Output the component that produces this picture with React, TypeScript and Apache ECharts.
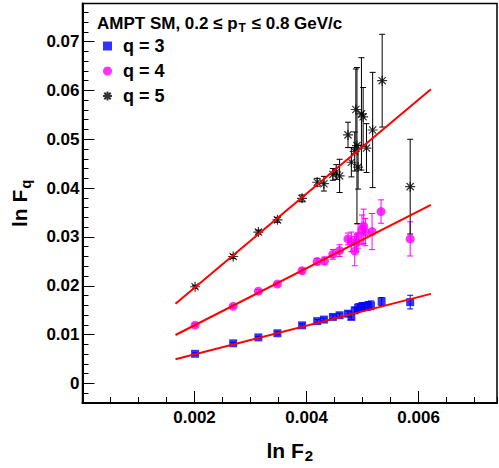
import React, { useEffect, useRef } from 'react';
import * as echarts from 'echarts';

const FONT = '"Liberation Sans", Arial, Helvetica, sans-serif';

const seriesNames = ['q = 3', 'q = 4', 'q = 5'];

const q3X = [0.00201, 0.00269, 0.00314, 0.00348, 0.00392, 0.00419, 0.00431, 0.00447, 0.00459, 0.00474, 0.0048, 0.00486, 0.00492, 0.00498, 0.00504, 0.00509, 0.00515, 0.00534, 0.00585];
const q3Y = [0.00607, 0.00822, 0.00943, 0.01028, 0.0119, 0.01277, 0.01308, 0.01362, 0.01397, 0.01429, 0.01362, 0.01498, 0.01551, 0.01565, 0.01579, 0.01585, 0.016, 0.0168, 0.01666];
const q3Err = [0.0002, 0.0002, 0.0002, 0.0003, 0.0003, 0.0003, 0.0003, 0.0004, 0.0004, 0.0005, 0.0005, 0.0006, 0.0008, 0.0009, 0.0008, 0.0009, 0.0009, 0.0008, 0.0014];

const q4X = [0.00201, 0.00269, 0.00314, 0.00348, 0.00392, 0.00419, 0.00432, 0.00447, 0.00459, 0.00474, 0.0048, 0.00486, 0.00489, 0.00492, 0.00499, 0.00502, 0.00505, 0.00517, 0.00533, 0.00585];
const q4Y = [0.01194, 0.01579, 0.01889, 0.02036, 0.02308, 0.02496, 0.0251, 0.02644, 0.0272, 0.0296, 0.029, 0.0271, 0.0288, 0.0302, 0.0315, 0.0322, 0.031, 0.0311, 0.0352, 0.0296];
const q4Err = [0.0003, 0.0003, 0.0003, 0.0004, 0.0005, 0.0006, 0.0008, 0.001, 0.0012, 0.0012, 0.002, 0.003, 0.0018, 0.0025, 0.003, 0.0035, 0.0028, 0.0037, 0.0024, 0.0035];

const q5X = [0.00201, 0.00269, 0.00314, 0.00348, 0.00392, 0.00419, 0.00431, 0.00447, 0.00453, 0.00459, 0.00474, 0.0048, 0.00486, 0.00488, 0.0049, 0.00492, 0.00498, 0.00501, 0.00507, 0.00518, 0.00535, 0.00585];
const q5Y = [0.0198, 0.026, 0.031, 0.0335, 0.0379, 0.0412, 0.0409, 0.0428, 0.0433, 0.0425, 0.0509, 0.0453, 0.0475, 0.0561, 0.0487, 0.0443, 0.0552, 0.0546, 0.0482, 0.0519, 0.062, 0.0403];
const q5Err = [0.0003, 0.0004, 0.0004, 0.0005, 0.0007, 0.0008, 0.0015, 0.0012, 0.0015, 0.0034, 0.0026, 0.003, 0.004, 0.0083, 0.016, 0.0045, 0.0115, 0.006, 0.005, 0.0118, 0.0095, 0.0097];

// linear fits: lnFq = intercept + slope * lnF2
const fitSlope = [2.94, 5.84, 9.63];
const fitIntercept = [0.00006, 0.00023, 0.00033];
const fitRange = [0.00166, 0.00622];

const STAR = 'path://M0,-5L0,5M-5,0L5,0M-3.6,-3.6L3.6,3.6M-3.6,3.6L3.6,-3.6';

function errRender(color: string) {
  return (params: any, api: any) => {
    const x = api.value(0);
    const y = api.value(1);
    const e = api.value(2);
    const top = api.coord([x, y + e]);
    const bot = api.coord([x, y - e]);
    const hw = 3;
    const st = { stroke: color, lineWidth: 1 };
    return {
      type: 'group',
      children: [
        { type: 'line', shape: { x1: top[0], y1: top[1], x2: bot[0], y2: bot[1] }, style: st },
        { type: 'line', shape: { x1: top[0] - hw, y1: top[1], x2: top[0] + hw, y2: top[1] }, style: st },
        { type: 'line', shape: { x1: bot[0] - hw, y1: bot[1], x2: bot[0] + hw, y2: bot[1] }, style: st },
      ],
    };
  };
}

function fmtY(v: number) {
  if (Math.abs(v) < 1e-9) return '0';
  return String(Math.round(v * 100) / 100);
}

const subRich = {
  a: { fontSize: 21, fontWeight: 'bold', fontFamily: FONT, color: '#000' },
  s: { fontSize: 15, fontWeight: 'bold', fontFamily: FONT, color: '#000', padding: [11, 0, 0, 1] },
};

export default function App() {
  const ref = useRef<HTMLDivElement>(null);
  useEffect(() => {
    if (!ref.current) return;
    const chart = echarts.init(ref.current, undefined, { renderer: 'svg' });
    const xs = [q3X, q4X, q5X];
    const ys = [q3Y, q4Y, q5Y];
    const es = [q3Err, q4Err, q5Err];
    const colors = ['#0000ff', '#ff00ff', '#000000'];
    const symbols = ['rect', 'circle', STAR];
    const sizes = [8, 9, 10];

    const series: any[] = [];
    for (let k = 0; k < 3; k++) {
      series.push({
        type: 'custom',
        name: seriesNames[k] + ' err',
        xAxisIndex: 0,
        yAxisIndex: 0,
        renderItem: errRender(colors[k]),
        data: xs[k].map((x, i) => [x, ys[k][i], es[k][i]]),
        encode: { x: 0, y: 1 },
        clip: true,
        z: 2,
      });
    }
    for (let k = 0; k < 3; k++) {
      const isStar = k === 2;
      series.push({
        type: 'scatter',
        name: seriesNames[k],
        xAxisIndex: 0,
        yAxisIndex: 0,
        symbol: symbols[k],
        symbolSize: sizes[k],
        data: xs[k].map((x, i) => [x, ys[k][i]]),
        itemStyle: isStar
          ? { color: 'rgba(0,0,0,0)', borderColor: '#000', borderWidth: 1.2 }
          : { color: colors[k] },
        z: 3,
      });
    }
    for (let k = 0; k < 3; k++) {
      series.push({
        type: 'line',
        name: 'fit ' + k,
        xAxisIndex: 0,
        yAxisIndex: 0,
        showSymbol: false,
        symbol: 'none',
        data: fitRange.map((x) => [x, fitIntercept[k] + fitSlope[k] * x]),
        lineStyle: { color: '#ff0000', width: 2 },
        z: 5,
      });
    }

    const option: any = {
      animation: false,
      backgroundColor: '#fff',
      grid: {
        left: 82.5,
        right: 2,
        top: 3.5,
        bottom: 61,
        show: true,
        borderColor: '#000',
        borderWidth: 1.5,
        backgroundColor: 'rgba(0,0,0,0)',
      },
      title: {
        text: '{a|AMPT SM, 0.2 ≤ p}{s|T}{a| ≤ 0.8 GeV/c}',
        left: 92,
        top: 8,
        textStyle: {
          rich: {
            a: { fontSize: 17, fontWeight: 'bold', fontFamily: FONT, color: '#000' },
            s: { fontSize: 12, fontWeight: 'bold', fontFamily: FONT, color: '#000', padding: [9, 1, 0, 1] },
          },
        },
      },
      legend: {
        data: [
          { name: 'q = 3', icon: 'rect' },
          { name: 'q = 4', icon: 'circle' },
          { name: 'q = 5', icon: STAR },
        ],
        orient: 'vertical',
        left: 97,
        top: 32,
        itemWidth: 9,
        itemHeight: 9,
        itemGap: 7,
        textStyle: {
          fontSize: 18,
          fontWeight: 'bold',
          fontFamily: FONT,
          color: '#000',
          lineHeight: 18,
          padding: [0, 0, 0, 6],
        },
      },
      xAxis: [
        {
          type: 'value',
          min: 0,
          max: 0.0074,
          interval: 0.002,
          position: 'bottom',
          axisLine: { show: true, onZero: false, lineStyle: { color: '#000', width: 2 } },
          axisTick: { show: true, inside: true, length: 12, lineStyle: { color: '#000', width: 1 } },
          axisLabel: {
            formatter: (v: number) => (Math.abs(v) < 1e-9 ? '' : v.toFixed(3)),
            showMaxLabel: false,
            margin: 6,
            fontSize: 17,
            fontWeight: 'bold',
            fontFamily: FONT,
            color: '#000',
          },
          splitLine: { show: false },
          name: '{a|ln F}{s|2}',
          nameLocation: 'middle',
          nameGap: 34,
          nameTextStyle: { rich: subRich },
        },
        {
          type: 'value',
          min: 0,
          max: 0.0074,
          interval: 0.0005,
          position: 'bottom',
          axisLine: { show: false, onZero: false },
          axisTick: { show: true, inside: true, length: 6, lineStyle: { color: '#000', width: 1 } },
          axisLabel: { show: false },
          splitLine: { show: false },
        },
      ],
      yAxis: [
        {
          type: 'value',
          min: -0.004,
          max: 0.0778,
          splitNumber: 8,
          position: 'left',
          axisLine: { show: true, onZero: false, lineStyle: { color: '#000', width: 2 } },
          axisTick: { show: true, inside: true, length: 12, lineStyle: { color: '#000', width: 1 } },
          axisLabel: {
            formatter: fmtY,
            showMinLabel: false,
            showMaxLabel: false,
            margin: 3,
            fontSize: 17,
            fontWeight: 'bold',
            fontFamily: FONT,
            color: '#000',
          },
          splitLine: { show: false },
          name: '{a|ln F}{s|q}',
          nameLocation: 'middle',
          nameRotate: 90,
          nameGap: 50,
          nameTextStyle: { rich: subRich },
        },
        {
          type: 'value',
          min: -0.004,
          max: 0.0778,
          interval: 0.002,
          position: 'left',
          axisLine: { show: false, onZero: false },
          axisTick: { show: true, inside: true, length: 6, lineStyle: { color: '#000', width: 1 } },
          axisLabel: { show: false },
          splitLine: { show: false },
        },
      ],
      series,
    };
    chart.setOption(option);
    return () => chart.dispose();
  }, []);
  return (
    <div
      ref={ref}
      style={{ position: 'fixed', left: 0, top: 0, width: 499, height: 468, background: '#fff' }}
    />
  );
}
